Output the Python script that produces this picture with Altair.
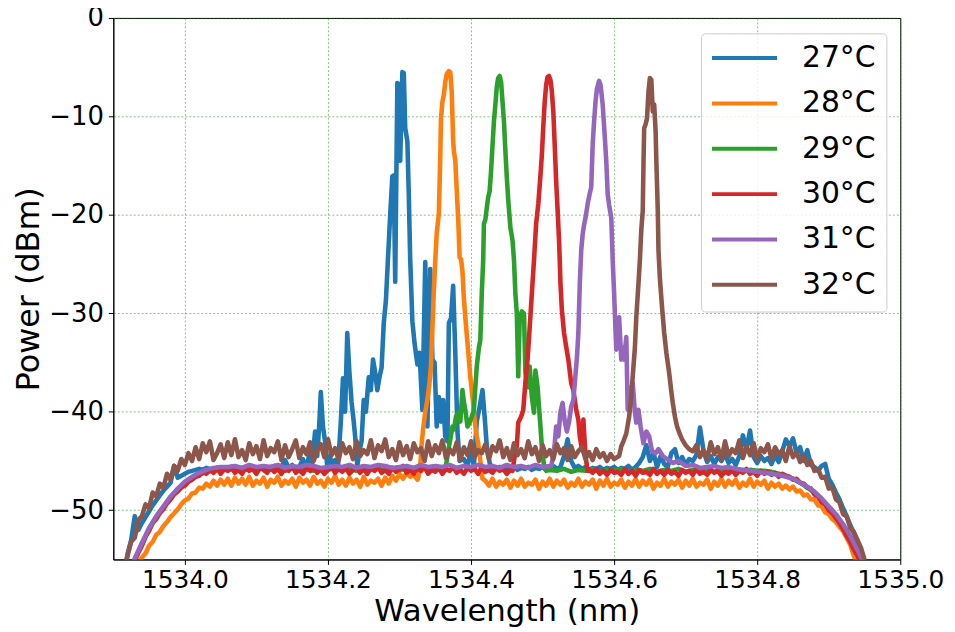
import altair as alt
import pandas as pd

# ---------------- data ----------------
LABELS = ["27°C", "28°C", "29°C", "30°C", "31°C", "32°C"]
COLORS = ["#1f77b4", "#ff7f0e", "#2ca02c", "#d62728", "#9467bd", "#8c564b"]
X_TICKS = [1534.0, 1534.2, 1534.4, 1534.6, 1534.8, 1535.0]
Y_TICKS = [0, -10, -20, -30, -40, -50]

FINE = 0.005    # OSA sampling step of the noisy floor (nm)
COARSE = 0.01

# ---- 27°C (blue)
B27_L0 = 1533.915
B27_L = [-56.5, -54.4, -53.0, -50.6, -52.0, -51.3, -50.7, -50.1, -49.5, -49.0,
         -48.5, -48.0, -47.6, -47.2, -45.5, -46.7, -46.5, -46.3, -46.1, -46.0,
         -45.9, -45.8, -45.9, -45.7, -45.8, -45.9, -45.7, -45.8, -45.9, -45.7,
         -45.8, -45.6, -45.9, -45.7, -45.8, -45.6, -45.9, -45.7, -45.8, -45.6,
         -45.9, -45.7, -45.5, -45.8, -45.6, -44.9, -45.7, -45.4, -45.8]
P27_X = [1534.160, 1534.165, 1534.170, 1534.175, 1534.178, 1534.182, 1534.185, 1534.188,
         1534.190, 1534.193, 1534.196, 1534.199, 1534.203, 1534.206, 1534.210, 1534.214,
         1534.218, 1534.221, 1534.224, 1534.227, 1534.230, 1534.233, 1534.236, 1534.238,
         1534.241, 1534.244, 1534.247, 1534.250, 1534.253, 1534.257, 1534.260, 1534.263,
         1534.266, 1534.269, 1534.272, 1534.275, 1534.278, 1534.281, 1534.284, 1534.287,
         1534.290, 1534.292, 1534.294, 1534.297, 1534.299, 1534.301, 1534.304, 1534.306,
         1534.308, 1534.311, 1534.313, 1534.315, 1534.318, 1534.321, 1534.325, 1534.328,
         1534.332, 1534.336, 1534.339, 1534.343, 1534.346, 1534.349, 1534.352, 1534.355,
         1534.358, 1534.361, 1534.364, 1534.367, 1534.369, 1534.372, 1534.375, 1534.378,
         1534.381, 1534.384, 1534.390, 1534.395, 1534.400, 1534.404, 1534.408, 1534.412,
         1534.416, 1534.419, 1534.422, 1534.426, 1534.430]
P27_Y = [-45.6, -44.8, -45.8, -43.9, -45.2, -42.0, -44.5, -41.1,
         -38.0, -41.5, -43.0, -45.5, -44.5, -45.8, -44.9, -45.6,
         -41.0, -36.6, -40.0, -32.0, -36.0, -39.0, -41.0, -42.5,
         -45.5, -44.0, -43.0, -38.8, -40.0, -36.5, -37.8, -34.7,
         -36.0, -37.8, -36.5, -35.5, -31.0, -28.7, -24.3, -20.0,
         -16.1, -16.0, -26.8, -6.6, -6.8, -14.5, -5.5, -5.6,
         -11.2, -12.5, -18.0, -24.6, -30.8, -33.0, -35.2, -34.0,
         -39.8, -24.8, -41.5, -25.5, -34.7, -35.0, -41.5, -38.5,
         -41.0, -38.8, -42.5, -43.0, -31.0, -30.5, -27.2, -34.0,
         -42.0, -45.0, -44.8, -45.5, -44.0, -45.5, -41.0, -39.5,
         -37.8, -40.5, -43.5, -45.2, -45.8]
B27_R0 = 1534.435
B27_R = [-45.8, -45.6, -45.9, -45.7, -45.8, -45.6, -45.9, -45.7, -45.8, -45.6,
         -45.9, -45.7, -45.8, -45.6, -45.9, -45.7, -45.5, -45.8, -45.6, -44.5,
         -42.8, -45.0, -45.7, -45.5, -45.8, -45.6, -45.9, -45.7, -45.8, -45.6,
         -45.9, -45.7, -45.8, -45.6, -45.9, -45.7, -45.8, -45.5, -45.9, -45.6,
         -45.2, -44.6, -43.4, -45.0, -44.2, -45.6, -44.5, -45.3, -45.6, -44.2,
         -43.8, -45.2, -44.6, -45.4, -44.8, -45.0, -44.4, -41.6, -44.0, -45.1,
         -44.5, -45.3, -44.6, -45.0, -44.3, -45.2, -44.8, -45.4, -44.5, -42.4,
         -43.8, -41.9, -44.6, -45.2, -44.5, -45.0, -44.7, -45.3, -44.4, -45.1,
         -44.0, -42.8, -43.5, -42.7, -44.2, -43.6, -45.0, -43.9, -45.4, -45.6,
         -46.0, -45.5, -45.3, -46.8, -47.4, -48.2, -48.9, -49.8, -50.6, -51.5,
         -52.3, -53.2, -54.2, -55.2, -56.2]

# ---- 28°C (orange)
B28_L0 = 1533.930
B28_L = [-56.5, -55.6, -54.8, -54.4, -53.6, -53.2, -52.5, -52.2, -51.6, -51.2,
         -50.7, -50.3, -49.9, -49.4, -49.0, -48.8, -48.3, -48.2, -47.7, -47.8,
         -47.3, -47.6, -47.0, -47.5, -46.9, -47.4, -46.8, -47.5, -46.7, -47.3,
         -46.8, -47.4, -46.6, -47.5, -47.0, -47.3, -46.7, -47.6, -46.9, -47.2,
         -46.6, -47.5, -47.0, -47.3, -46.8, -47.6, -46.7, -47.2, -46.9, -47.5,
         -46.6, -47.3, -47.0, -47.6, -46.8, -47.2, -46.5, -47.4, -46.9, -47.5,
         -46.7, -47.3, -46.9, -47.6, -46.6, -47.4, -47.0, -47.2, -46.8, -47.5,
         -46.7, -47.3, -46.5, -47.0, -46.3, -46.8, -46.2, -46.6, -46.4, -46.9]
P28_X = [1534.326, 1534.329, 1534.331, 1534.333, 1534.336, 1534.339, 1534.342, 1534.344,
         1534.346, 1534.348, 1534.350, 1534.352, 1534.355, 1534.357, 1534.358, 1534.360,
         1534.362, 1534.364, 1534.366, 1534.369, 1534.371, 1534.373, 1534.375, 1534.376,
         1534.378, 1534.380, 1534.382, 1534.384, 1534.386, 1534.388, 1534.390, 1534.392,
         1534.395, 1534.397, 1534.399, 1534.401, 1534.404, 1534.406, 1534.408, 1534.410,
         1534.413, 1534.416]
P28_Y = [-46.8, -45.5, -43.2, -41.8, -40.0, -38.8, -37.0, -35.4,
         -31.5, -27.7, -24.6, -21.9, -19.9, -14.0, -10.2, -8.5,
         -7.8, -6.5, -5.7, -5.4, -5.5, -7.5, -12.5, -13.5,
         -14.5, -17.5, -20.3, -24.3, -24.5, -25.7, -28.5, -30.4,
         -33.0, -34.7, -36.5, -37.8, -40.0, -41.5, -42.5, -43.2,
         -45.0, -46.8]
B28_R0 = 1534.420
B28_R = [-47.0, -47.5, -46.8, -47.6, -47.1, -47.4, -46.9, -47.7, -47.0, -47.5,
         -46.8, -47.6, -47.2, -47.4, -46.9, -47.8, -47.1, -47.5, -46.8, -47.6,
         -47.0, -47.4, -46.9, -47.7, -47.2, -47.5, -46.8, -47.6, -47.1, -47.4,
         -46.9, -47.8, -47.0, -47.5, -46.8, -47.6, -47.2, -47.4, -46.9, -47.7,
         -47.1, -47.5, -46.8, -47.6, -47.0, -47.4, -46.9, -47.8, -47.2, -47.5,
         -46.8, -47.6, -47.1, -47.4, -46.9, -47.7, -47.0, -47.5, -46.8, -47.6,
         -47.2, -47.4, -46.9, -47.8, -47.1, -47.5, -46.8, -47.6, -47.0, -47.4,
         -46.9, -47.7, -47.2, -47.5, -46.8, -47.6, -47.1, -47.4, -47.0, -47.8,
         -47.2, -47.6, -47.3, -47.8, -47.5, -47.9, -47.6, -48.1, -48.0, -48.5,
         -48.4, -48.9, -48.9, -49.5, -49.6, -50.2, -50.4, -50.9, -51.2, -51.7,
         -52.1, -52.8, -53.5, -54.6, -55.4, -56.4]

# ---- 29°C (green)
B29_L0 = 1533.92
B29_L = [-56.8, -55.0, -53.4, -51.9, -50.7, -49.7, -48.7, -47.9, -47.3, -46.8,
         -46.4, -46.1, -46.0, -45.9, -45.9, -45.8, -46.0, -45.8, -45.9, -45.7,
         -45.9, -45.8, -46.0, -45.7, -45.9, -45.8, -46.0, -45.8, -45.9, -45.7,
         -45.9, -45.8, -46.0, -45.7, -45.9, -45.8, -46.0, -45.7, -45.9, -45.8,
         -46.0, -45.7, -45.9, -45.8, -45.9]
P29_X = [1534.365, 1534.368, 1534.371, 1534.374, 1534.376, 1534.379, 1534.382, 1534.385,
         1534.388, 1534.390, 1534.392, 1534.395, 1534.398, 1534.401, 1534.404, 1534.406,
         1534.408, 1534.411, 1534.413, 1534.415, 1534.417, 1534.418, 1534.420, 1534.422,
         1534.424, 1534.426, 1534.428, 1534.430, 1534.432, 1534.434, 1534.436, 1534.438,
         1534.440, 1534.442, 1534.444, 1534.446, 1534.448, 1534.450, 1534.452, 1534.455,
         1534.458, 1534.460, 1534.462, 1534.464, 1534.466, 1534.468, 1534.471, 1534.474,
         1534.476, 1534.479, 1534.482, 1534.485, 1534.488, 1534.490, 1534.493, 1534.496,
         1534.499, 1534.502, 1534.505]
P29_Y = [-45.5, -44.0, -42.8, -41.5, -41.8, -40.5, -40.1, -41.0,
         -37.8, -39.0, -39.8, -41.5, -41.1, -40.5, -39.8, -37.5,
         -35.4, -33.5, -32.7, -28.0, -24.6, -20.9, -20.5, -19.3,
         -18.2, -17.6, -15.5, -13.0, -10.5, -8.8, -7.0, -6.1,
         -5.9, -6.5, -8.5, -10.5, -13.5, -16.2, -18.5, -21.3,
         -22.6, -24.6, -28.0, -30.0, -36.4, -30.5, -29.8, -30.0,
         -36.0, -37.5, -35.4, -38.5, -40.1, -35.8, -37.5, -40.5,
         -43.5, -45.5, -46.0]
B29_R0 = 1534.51
B29_R = [-45.9, -46.0, -45.8, -46.1, -45.9, -46.0, -45.8, -46.1, -45.9, -46.0,
         -45.8, -46.1, -45.9, -46.0, -45.8, -46.1, -45.9, -46.0, -45.8, -46.1,
         -45.9, -46.0, -45.8, -46.1, -45.9, -46.0, -45.8, -46.1, -45.9, -46.0,
         -46.0, -46.1, -46.3, -46.5, -46.8, -47.2, -47.7, -48.2, -48.9, -49.7,
         -50.5, -51.5, -52.8, -54.2, -55.7]

# ---- 30°C (red)
B30_L0 = 1533.925
B30_L = [-56.0, -55.2, -54.3, -53.6, -52.7, -52.1, -51.3, -50.9, -50.3, -49.9,
         -49.3, -48.9, -48.4, -48.1, -47.7, -47.5, -47.1, -46.9, -46.6, -46.5,
         -46.1, -46.3, -45.9, -46.2, -45.7, -46.3, -45.8, -46.0, -45.6, -46.2,
         -45.9, -46.3, -45.6, -46.0, -45.8, -46.3, -45.7, -45.9, -46.2, -45.6,
         -46.1, -45.8, -46.3, -45.7, -46.0, -45.5, -46.2, -45.9, -46.3, -45.7,
         -46.0, -45.6, -46.2, -45.8, -46.3, -45.9, -45.6, -46.2, -45.8, -46.1,
         -45.7, -46.3, -45.9, -45.6, -46.2, -45.8, -46.3, -45.7, -46.0, -45.6,
         -46.2, -45.9, -46.3, -45.7, -46.1, -45.8, -45.5, -46.2, -45.9, -46.3,
         -45.7, -46.0, -45.6, -46.3, -45.9, -46.1, -45.7, -46.3, -45.8, -46.0,
         -45.6, -46.2, -45.9, -46.3, -45.7, -46.0, -45.8, -46.3, -45.6, -46.1,
         -45.9, -46.2, -45.7, -46.0, -45.8, -46.3, -45.9]
P30_X = [1534.458, 1534.461, 1534.464, 1534.466, 1534.470, 1534.473, 1534.476, 1534.479,
         1534.482, 1534.485, 1534.488, 1534.491, 1534.494, 1534.497, 1534.499, 1534.501,
         1534.503, 1534.505, 1534.507, 1534.509, 1534.511, 1534.513, 1534.515, 1534.517,
         1534.519, 1534.521, 1534.523, 1534.524, 1534.525, 1534.527, 1534.530, 1534.533,
         1534.536, 1534.540, 1534.543, 1534.547, 1534.550, 1534.552, 1534.555, 1534.557,
         1534.560, 1534.563]
P30_Y = [-46.0, -44.5, -43.5, -41.1, -40.5, -39.8, -37.0, -34.7,
         -31.4, -28.0, -24.6, -20.9, -18.9, -16.0, -13.9, -11.0,
         -8.5, -6.8, -6.0, -5.9, -6.3, -7.5, -9.5, -13.0,
         -16.6, -19.5, -22.6, -24.6, -27.0, -29.7, -32.0, -33.4,
         -34.7, -37.1, -37.8, -39.8, -40.8, -42.5, -43.8, -40.8,
         -44.5, -46.0]
B30_R0 = 1534.565
B30_R = [-45.9, -46.2, -45.8, -46.3, -46.0, -46.4, -45.9, -46.2, -46.1, -46.4,
         -45.8, -46.3, -46.0, -46.5, -45.9, -46.2, -46.1, -46.4, -45.8, -46.3,
         -46.0, -46.4, -45.9, -46.3, -46.1, -46.5, -45.9, -46.2, -46.0, -46.4,
         -45.8, -46.3, -46.1, -46.4, -45.9, -46.2, -46.0, -46.5, -46.1, -46.3,
         -45.9, -46.4, -46.0, -46.2, -45.8, -46.3, -46.1, -46.5, -46.0, -46.3,
         -46.1, -46.4, -46.2, -46.6, -46.3, -46.5, -46.6, -46.9, -46.8, -47.2,
         -47.3, -47.7, -47.8, -48.4, -48.6, -49.2, -49.4, -50.0, -50.3, -50.8,
         -51.3, -51.9, -52.6, -53.2, -54.0, -54.6, -55.4, -56.2]

# ---- 31°C (purple)
B31_L0 = 1533.92
B31_L = [-56.7, -54.9, -53.3, -51.8, -50.6, -49.6, -48.6, -47.8, -47.1, -46.6,
         -46.2, -45.9, -45.7, -45.6, -45.6, -45.5, -45.7, -45.4, -45.6, -45.5,
         -45.6, -45.4, -45.7, -45.5, -45.6, -45.4, -45.5, -45.7, -45.6, -45.5,
         -45.6, -45.4, -45.7, -45.5, -45.6, -45.4, -45.5, -45.7, -45.6, -45.5,
         -45.7, -45.4, -45.6, -45.5, -45.6, -45.4, -45.7, -45.5, -45.6, -45.4,
         -45.6, -45.5, -45.7, -45.4, -45.6, -45.5, -45.7, -45.4, -45.6, -45.5]
P31_X = [1534.512, 1534.515, 1534.517, 1534.519, 1534.522, 1534.525, 1534.528, 1534.531,
         1534.534, 1534.537, 1534.540, 1534.543, 1534.545, 1534.548, 1534.550, 1534.552,
         1534.554, 1534.556, 1534.558, 1534.560, 1534.563, 1534.566, 1534.568, 1534.570,
         1534.572, 1534.574, 1534.576, 1534.579, 1534.581, 1534.584, 1534.586, 1534.589,
         1534.591, 1534.593, 1534.596, 1534.598, 1534.600, 1534.603, 1534.605, 1534.607,
         1534.610, 1534.612, 1534.614, 1534.617, 1534.619, 1534.622, 1534.626, 1534.629,
         1534.631, 1534.634, 1534.637, 1534.641, 1534.645, 1534.649, 1534.653, 1534.658,
         1534.662, 1534.668, 1534.674, 1534.682, 1534.690, 1534.700, 1534.710, 1534.720]
P31_Y = [-45.5, -44.5, -43.2, -41.5, -42.5, -40.0, -39.1, -41.0,
         -42.0, -41.0, -39.5, -38.8, -37.1, -34.5, -32.0, -27.0,
         -23.6, -22.0, -21.0, -20.3, -18.9, -17.8, -17.2, -12.9,
         -10.5, -8.5, -7.2, -6.4, -6.8, -8.8, -11.0, -14.5,
         -17.9, -19.0, -20.3, -24.6, -28.0, -33.7, -31.0, -30.4,
         -34.7, -33.5, -34.7, -32.4, -39.8, -38.0, -37.1, -40.0,
         -41.1, -39.8, -41.5, -43.2, -42.0, -42.5, -44.0, -44.2,
         -43.8, -44.5, -44.8, -45.2, -45.0, -45.5, -45.4, -45.7]
B31_R0 = 1534.73
B31_R = [-45.6, -45.5, -45.7, -45.6, -45.8, -45.9, -46.0, -46.1, -46.2, -46.3,
         -46.4, -46.6, -46.8, -47.2, -47.6, -48.1, -48.8, -49.6, -50.4, -51.4,
         -52.6, -54.0, -55.5]

# ---- 32°C (brown)
B32_L0 = 1533.915
B32_L = [-56.0, -54.6, -53.2, -52.8, -51.0, -50.6, -49.4, -49.8, -48.2, -48.6,
         -47.3, -47.7, -46.3, -46.9, -45.5, -46.0, -44.8, -45.4, -44.2, -45.0,
         -43.6, -44.8, -43.2, -44.1, -43.0, -44.9, -44.2, -43.3, -44.7, -43.1,
         -44.4, -42.8, -44.6, -43.9, -44.9, -43.2, -44.3, -43.5, -44.8, -42.9,
         -44.5, -43.7, -44.1, -43.0, -44.9, -43.4, -44.6, -43.8, -42.9, -44.7,
         -43.6, -44.3, -43.1, -45.0, -43.9, -43.3, -44.6, -42.8, -44.4, -43.7,
         -44.9, -43.2, -44.2, -43.6, -44.8, -43.0, -44.5, -43.9, -44.3, -42.9,
         -44.7, -43.4, -44.0, -42.8, -44.6, -43.8, -44.9, -43.1, -44.4, -43.5,
         -44.8, -43.2, -44.1, -43.7, -45.0, -43.0, -44.5, -43.4, -44.2, -42.9,
         -44.7, -43.8, -44.3, -43.1, -44.9, -43.6, -44.4, -43.0, -44.6, -43.9,
         -44.2, -43.3, -44.8, -43.5, -44.0, -42.9, -44.6, -43.7, -44.9, -43.2,
         -44.4, -43.8, -44.7, -43.0, -44.3, -43.6, -45.0, -43.4, -44.5, -43.9,
         -44.8, -43.3, -44.2, -43.7, -44.9, -43.5, -44.6, -44.0, -43.6, -44.8,
         -44.1, -44.9, -43.8, -44.6, -44.2, -45.0, -44.3, -44.8]
P32_X = [1534.607, 1534.610, 1534.613, 1534.617, 1534.621, 1534.624, 1534.626, 1534.629,
         1534.631, 1534.634, 1534.636, 1534.638, 1534.640, 1534.641, 1534.642, 1534.644,
         1534.646, 1534.648, 1534.650, 1534.652, 1534.654, 1534.656, 1534.658, 1534.659,
         1534.661, 1534.662, 1534.664, 1534.667, 1534.670, 1534.673, 1534.677, 1534.680,
         1534.682, 1534.685, 1534.688, 1534.692, 1534.695, 1534.700, 1534.705, 1534.710]
P32_Y = [-44.5, -43.5, -43.0, -42.2, -40.5, -38.5, -36.4, -33.5,
         -30.4, -27.0, -24.6, -21.5, -19.6, -15.0, -11.2, -10.8,
         -10.2, -7.5, -6.1, -6.3, -9.5, -8.8, -11.5, -14.5,
         -19.5, -23.6, -26.5, -29.4, -32.0, -34.0, -36.1, -38.0,
         -39.1, -40.5, -41.5, -42.3, -42.8, -43.4, -43.8, -44.0]
B32_R0 = 1534.715
B32_R = [-43.4, -44.6, -43.9, -44.8, -43.1, -44.3, -43.6, -44.9, -43.0, -44.5,
         -43.8, -44.2, -42.9, -44.7, -43.5, -44.4, -43.2, -44.9, -43.7, -44.1,
         -43.3, -44.8, -43.6, -44.3, -43.9, -45.0, -43.5, -44.6, -44.1, -45.1,
         -44.5, -45.4, -45.0, -46.0, -45.8, -46.7, -46.6, -47.8, -47.7, -48.9,
         -49.2, -50.4, -50.6, -51.8, -52.2, -53.0, -53.8, -55.0, -56.0]

SERIES = [
    (LABELS[0], B27_L0, FINE, B27_L, P27_X, P27_Y, B27_R0, FINE, B27_R),
    (LABELS[1], B28_L0, FINE, B28_L, P28_X, P28_Y, B28_R0, FINE, B28_R),
    (LABELS[2], B29_L0, COARSE, B29_L, P29_X, P29_Y, B29_R0, COARSE, B29_R),
    (LABELS[3], B30_L0, FINE, B30_L, P30_X, P30_Y, B30_R0, FINE, B30_R),
    (LABELS[4], B31_L0, COARSE, B31_L, P31_X, P31_Y, B31_R0, COARSE, B31_R),
    (LABELS[5], B32_L0, FINE, B32_L, P32_X, P32_Y, B32_R0, FINE, B32_R),
]


def sampled(start, step, values):
    return [round(start + i * step, 4) for i in range(len(values))]


rows = []
for lab, l0, ls, lv, px, py, r0, rs, rv in SERIES:
    xs = sampled(l0, ls, lv) + list(px) + sampled(r0, rs, rv)
    ys = list(lv) + list(py) + list(rv)
    rows += [{"s": lab, "wl": a, "p": b} for a, b in zip(xs, ys)]
df = pd.DataFrame(rows)

FONT = "DejaVu Sans"

x_enc = alt.X("wl:Q",
              scale=alt.Scale(domain=[1533.9, 1535.0], nice=False, zero=False),
              axis=alt.Axis(values=X_TICKS, format=".1f", title="Wavelength (nm)",
                            labelFlush=False, labelPadding=3, titlePadding=4,
                            labelFontSize=25, titleFontSize=31))
y_enc = alt.Y("p:Q",
              scale=alt.Scale(domain=[-55, 0], nice=False, zero=False),
              axis=alt.Axis(values=Y_TICKS, format="d", title="Power (dBm)",
                            labelPadding=5, titlePadding=3))

line_layers = []
for lab, col in zip(LABELS, COLORS):
    line_layers.append(
        alt.Chart(df).transform_filter(alt.datum.s == lab)
        .mark_line(color=col, strokeWidth=4.6, clip=True, strokeJoin="round")
        .encode(x=x_enc, y=y_enc)
    )
main = alt.layer(*line_layers)

# legend (matplotlib style box, upper right)
leg_df = pd.DataFrame({"label": LABELS, "color": COLORS})
leg_y = alt.Y("label:N",
              scale=alt.Scale(type="point", domain=LABELS, range=[40.4, 268.6], padding=0),
              axis=None)
leg_box = alt.Chart(alt.Data(values=[{"k": 1}])).mark_rect(
    fill="white", fillOpacity=0.8, stroke="#cccccc", strokeWidth=1, cornerRadius=4
).encode(x=alt.value(592), x2=alt.value(778.5), y=alt.value(16), y2=alt.value(296))
leg_lines = alt.Chart(leg_df).mark_rule(strokeWidth=4).encode(
    x=alt.value(602.5), x2=alt.value(668), y=leg_y,
    color=alt.Color("color:N", scale=None))
leg_text = alt.Chart(leg_df).mark_text(
    align="left", baseline="middle", fontSize=30, font=FONT, color="black"
).encode(x=alt.value(693), y=leg_y, text="label:N")
legend = alt.layer(leg_box, leg_lines, leg_text)

chart = alt.layer(main, legend).resolve_scale(y="independent").properties(
    width=792, height=545, autosize="none",
    padding={"left": 106, "top": 8, "right": 47, "bottom": 70},
).configure_view(
    stroke="black", strokeWidth=1
).configure_axis(
    labelFont=FONT, titleFont=FONT, labelFontSize=26, titleFontSize=32,
    labelColor="black", titleColor="black", titleFontWeight="normal",
    tickColor="black", tickSize=5, domainColor="black", domainWidth=1,
    grid=True, gridColor="#008000", gridDash=[2, 2], gridWidth=0.6, gridOpacity=0.8,
)

chart.save("out.html", embed_options={"renderer": "svg", "actions": False})
